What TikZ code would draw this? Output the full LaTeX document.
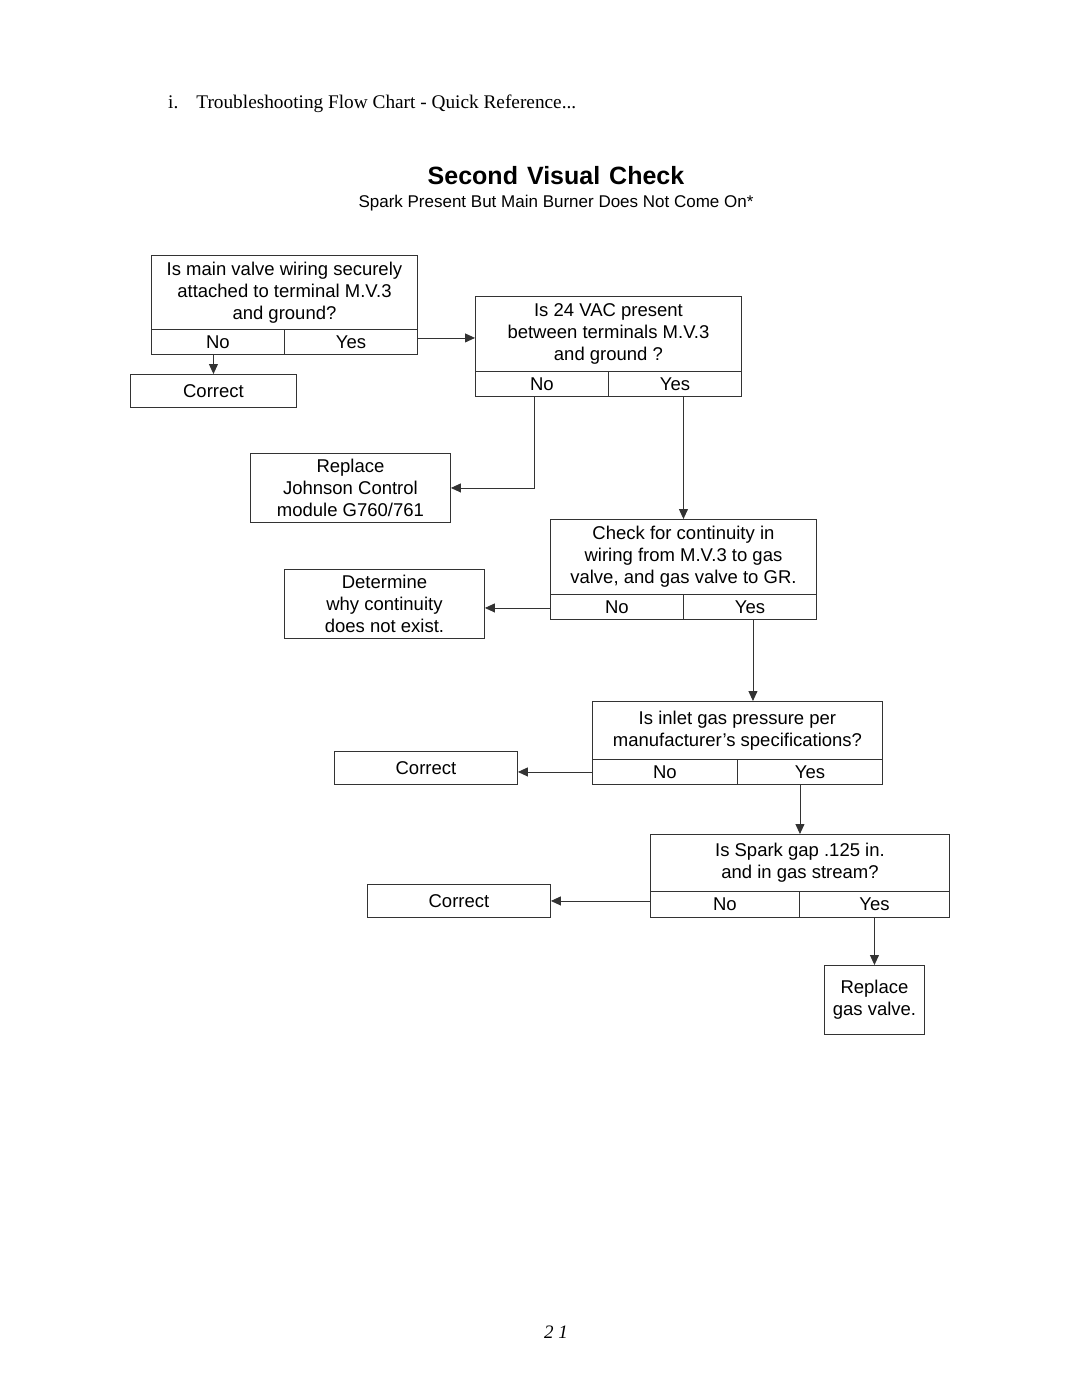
\documentclass[tikz,border=0pt]{standalone}
\usepackage{fontspec}
\setmainfont{Liberation Serif}
\setsansfont{Liberation Sans}
\usetikzlibrary{arrows.meta}
\tikzset{
  box/.style={draw=black!80, line width=0.9pt, inner sep=0pt, align=center,
    font=\sffamily\fontsize{18.5}{22}\selectfont, anchor=north west},
  conn/.style={draw=black!80, line width=0.9pt},
  arr/.style={conn, -{Triangle[length=10pt,width=9pt]}},
}
\begin{document}
\begin{tikzpicture}[x=1pt,y=-1pt]
\useasboundingbox (0,0) rectangle (1080,1397);
% header texts
\node[anchor=west, inner sep=0pt, font=\fontsize{19.3}{22}\selectfont] (hdr) at (168,104) {i.\hspace{18pt}Troubleshooting Flow Chart - Quick Reference...};
\node[inner sep=0pt, font=\sffamily\bfseries\fontsize{25}{28}\selectfont] (title) at (556,176) {Second\hspace{9pt}Visual\hspace{9pt}Check};
\node[inner sep=0pt, font=\sffamily\fontsize{17}{20}\selectfont] (sub) at (556,203) {Spark Present But Main Burner Does Not Come On*};
\node[inner sep=0pt, font=\itshape\fontsize{19}{22}\selectfont] (pg) at (556,1332) {2 1};

% question 1
\node[box, minimum width=266pt, minimum height=74pt] (q1) at (151,255) {Is main valve wiring securely\\attached to terminal M.V.3\\and ground?};
\node[box, minimum width=133pt, minimum height=25pt] (q1no) at (151,329) {No};
\node[box, minimum width=133pt, minimum height=25pt] (q1yes) at (284,329) {Yes};
\node[box, minimum width=166pt, minimum height=33pt] (c1) at (130,374) {Correct};

% question 2
\node[box, minimum width=266pt, minimum height=75pt] (q2) at (475,296) {Is 24 VAC present\\between terminals M.V.3\\and ground ?};
\node[box, minimum width=133pt, minimum height=25pt] (q2no) at (475,371) {No};
\node[box, minimum width=133pt, minimum height=25pt] (q2yes) at (608,371) {Yes};
\node[box, minimum width=200pt, minimum height=69pt] (r1) at (250,453) {Replace\\Johnson Control\\module G760/761};

% question 3
\node[box, minimum width=266pt, minimum height=75pt] (q3) at (550,519) {Check for continuity in\\wiring from M.V.3 to gas\\valve, and gas valve to GR.};
\node[box, minimum width=133pt, minimum height=25pt] (q3no) at (550,594) {No};
\node[box, minimum width=133pt, minimum height=25pt] (q3yes) at (683,594) {Yes};
\node[box, minimum width=200pt, minimum height=69pt] (d1) at (284,569) {Determine\\why continuity\\does not exist.};

% question 4
\node[box, minimum width=290pt, minimum height=58pt] (q4) at (592,701) {Is inlet gas pressure per\\manufacturer’s specifications?};
\node[box, minimum width=145pt, minimum height=25pt] (q4no) at (592,759) {No};
\node[box, minimum width=145pt, minimum height=25pt] (q4yes) at (737,759) {Yes};
\node[box, minimum width=183pt, minimum height=33pt] (c2) at (334,751) {Correct};

% question 5
\node[box, minimum width=299pt, minimum height=57pt] (q5) at (650,834) {Is Spark gap .125 in.\\and in gas stream?};
\node[box, minimum width=149pt, minimum height=26pt] (q5no) at (650,891) {No};
\node[box, minimum width=150pt, minimum height=26pt] (q5yes) at (799,891) {Yes};
\node[box, minimum width=183pt, minimum height=33pt] (c3) at (367,884) {Correct};
\node[box, minimum width=100pt, minimum height=69pt] (r2) at (824,965) {Replace\\gas valve.};

% connectors
\draw[arr] (q1no.south -| c1.north) -- (c1.north);
\draw[arr] ([yshift=4pt]q1yes.east) -- ([yshift=4pt]q1yes.east -| q2.west);
\draw[arr] ([xshift=-8pt]q2no.south) |- (r1.east);
\draw[arr] (q2yes.south -| q3.north) -- (q3.north);
\draw[arr] ([yshift=-1pt]q3no.west) -- ([yshift=-1pt]q3no.west -| d1.east);
\draw[arr] ([xshift=3pt]q3yes.south) -- ([xshift=3pt]q3yes.south |- q4.north);
\draw[arr] (q4no.west) -- (q4no.west -| c2.east);
\draw[arr] (q4yes.south -| q5.north) -- (q5.north);
\draw[arr] (c3.east -| q5no.west) -- (c3.east);
\draw[arr] (q5yes.south -| r2.north) -- (r2.north);
\end{tikzpicture}
\end{document}
